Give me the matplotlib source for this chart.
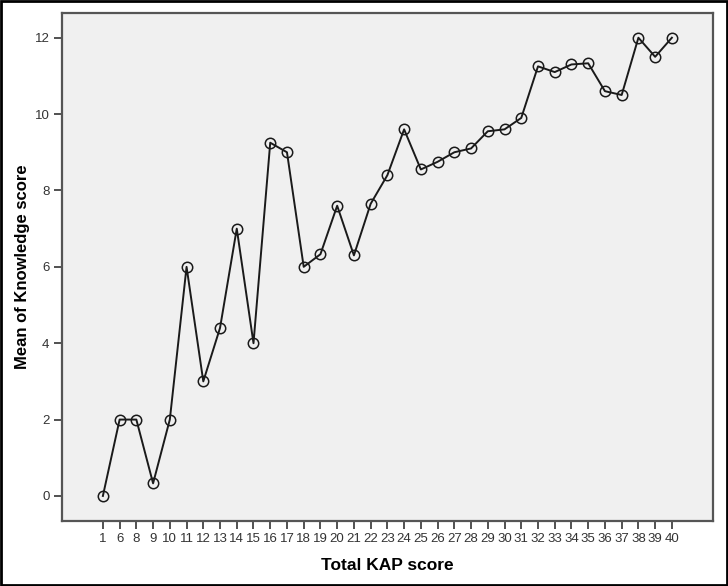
import matplotlib
matplotlib.use("Agg")
from matplotlib import pyplot as plt
from matplotlib.patches import Rectangle

# Total KAP score categories and mean knowledge score
kap_scores = ["1", "6", "8", "9", "10", "11", "12", "13", "14", "15", "16", "17",
              "18", "19", "20", "21", "22", "23", "24", "25", "26", "27", "28", "29",
              "30", "31", "32", "33", "34", "35", "36", "37", "38", "39", "40"]
mean_knowledge = [0, 2, 2, 0.33, 2, 6, 3, 4.4, 7, 4, 9.25, 9.0,
                  6.0, 6.33, 7.6, 6.3, 7.65, 8.4, 9.6, 8.55, 8.75, 9.0, 9.1, 9.55,
                  9.6, 9.9, 11.25, 11.1, 11.3, 11.33, 10.6, 10.5, 12, 11.5, 12]
y_ticks = [0, 2, 4, 6, 8, 10, 12]

plt.rcParams['font.family'] = ['Liberation Sans', 'DejaVu Sans']

fig = plt.figure(figsize=(7.28, 5.86), dpi=100)
ax = fig.add_axes([0.085, 0.111, 0.894, 0.867])
ax.set_facecolor("#f0f0f0")

x = list(range(len(kap_scores)))
ax.plot(x, mean_knowledge, color="#1a1a1a", linewidth=1.4,
        marker="o", markersize=7.5, markerfacecolor="none",
        markeredgecolor="#1a1a1a", markeredgewidth=1.1)

ax.set_xlim(-2.45, 36.44)
ax.set_ylim(-0.655, 12.65)
ax.set_xticks(x)
ax.set_xticklabels(kap_scores, fontsize=9.5, color="#333333")
ax.set_yticks(y_ticks)
ax.set_yticklabels([str(v) for v in y_ticks], fontsize=9.5, color="#333333")
ax.tick_params(direction="out", length=6, width=1.2, color="#333333", pad=3)

for side in ax.spines.values():
    side.set_color("#555555")
    side.set_linewidth(1.6)

ax.set_xlabel("Total KAP score", fontsize=12.5, fontweight="bold", labelpad=9)
ax.set_ylabel("Mean of Knowledge score", fontsize=12, fontweight="bold", labelpad=3)

# outer border of the picture
fig.patches.append(Rectangle((0.001, 0.001), 0.998, 0.998, transform=fig.transFigure,
                             fill=False, edgecolor="black", linewidth=2))

fig.savefig("out.png", dpi=100)
